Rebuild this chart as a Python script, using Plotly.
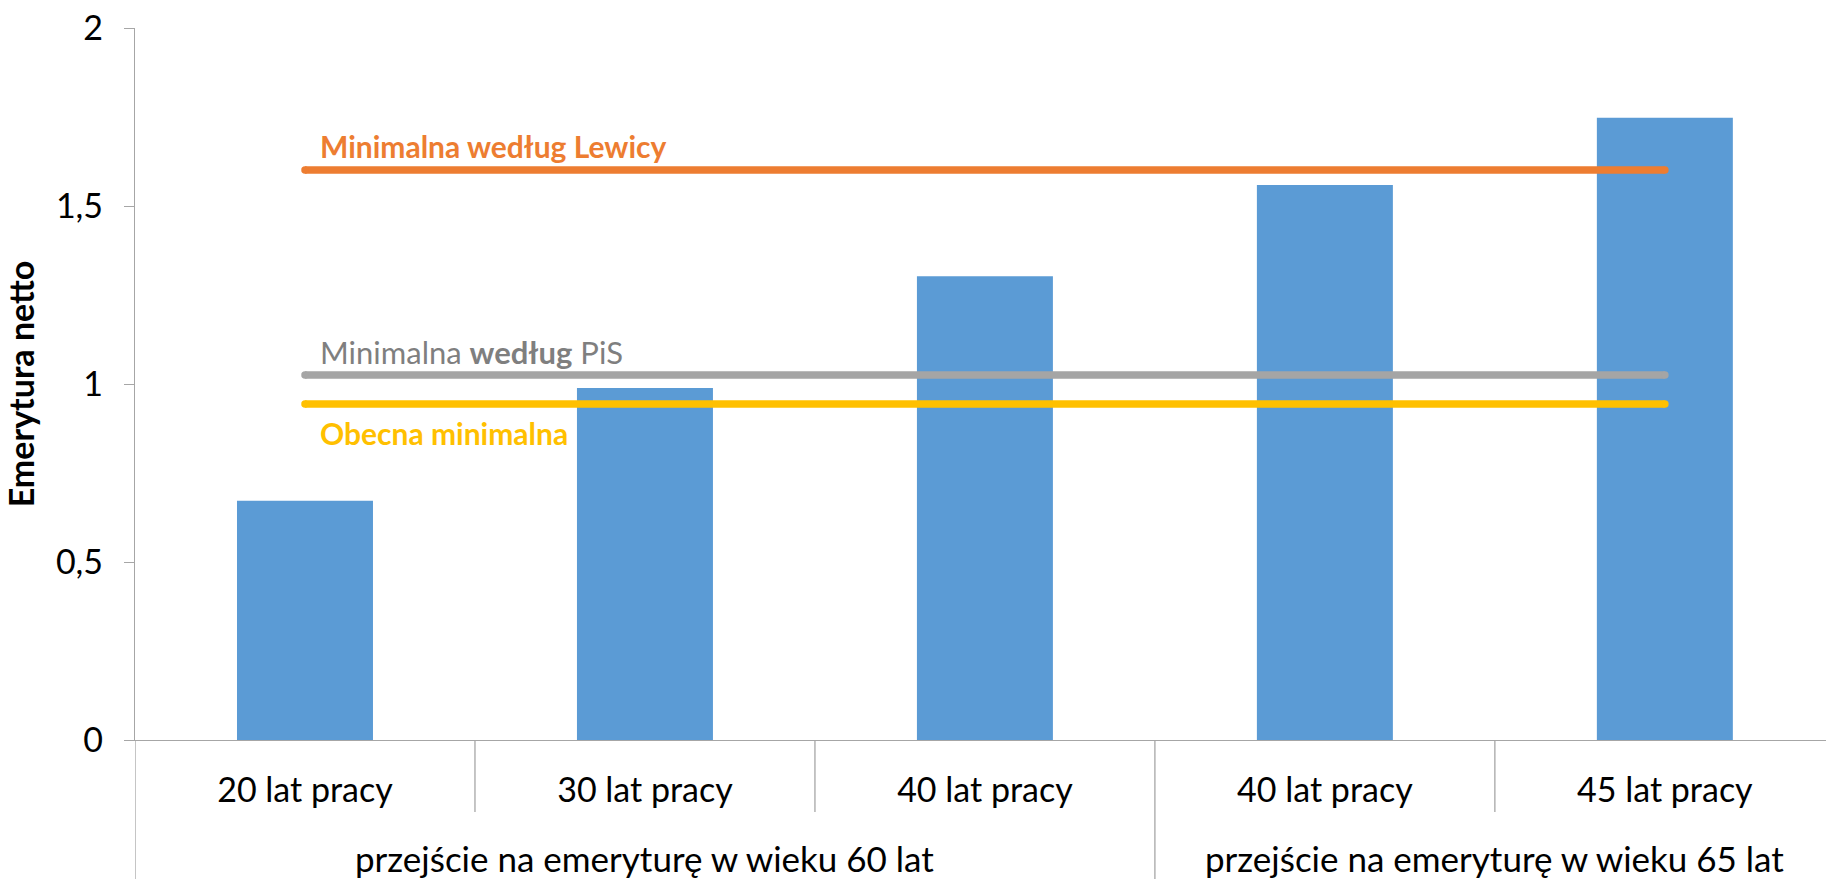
import plotly.graph_objects as go

categories = ["20 lat pracy", "30 lat pracy", "40 lat pracy", "40 lat pracy ", "45 lat pracy"]
tick_labels = ["20 lat pracy", "30 lat pracy", "40 lat pracy", "40 lat pracy", "45 lat pracy"]
groups = ["przejście na emeryturę w wieku 60 lat", "przejście na emeryturę w wieku 65 lat"]
group_members = [[0, 1, 2], [3, 4]]
values = [0.672, 0.989, 1.303, 1.559, 1.748]

line_names = ["Minimalna według Lewicy", "Minimalna według PiS", "Obecna minimalna"]
line_labels = ["<b>Minimalna według Lewicy</b>", "Minimalna <b>według</b> PiS", "<b>Obecna minimalna</b>"]
line_values = [1.601, 1.025, 0.944]
line_colors = ["#ED7D31", "#A5A5A5", "#FFC000"]
label_colors = ["#ED7D31", "#7F7F7F", "#FFC000"]
label_font_sizes = [30, 31, 30]
label_shift = [24, 23, -29]

y_ticks = [0, 0.5, 1, 1.5, 2]

FONT = "Lato"
AXIS_GREY = "#A6A6A6"

fig = go.Figure()
fig.add_trace(go.Bar(x=categories, y=values, marker=dict(color="#5B9BD5", line=dict(width=0)),
                     showlegend=False, hoverinfo="y"))

for name, v, c in zip(line_names, line_values, line_colors):
    fig.add_trace(go.Scatter(x=[categories[0], categories[-1]], y=[v, v], mode="lines+markers",
                             line=dict(color=c, width=7.5), marker=dict(color=c, size=7.5),
                             name=name, showlegend=False))

annotations = []
for lab, v, c, s, fs in zip(line_labels, line_values, label_colors, label_shift, label_font_sizes):
    annotations.append(dict(x=categories[0], y=v, xref="x", yref="y", text=lab, showarrow=False,
                            xanchor="left", yanchor="middle", xshift=13, yshift=s,
                            font=dict(family=FONT, size=fs, color=c)))

for g, members in zip(groups, group_members):
    xc = sum(members) / len(members)
    annotations.append(dict(x=xc, y=0, xref="x", yref="paper", text=g, showarrow=False,
                            xanchor="center", yanchor="middle", yshift=-118,
                            font=dict(family=FONT, size=35, color="#000000")))

shapes = []
n = len(categories)
group_ends = set(m[-1] for m in group_members)
for i in range(n - 1):
    long_div = i in group_ends
    shapes.append(dict(type="line", xref="x", yref="paper", x0=i + 0.5, x1=i + 0.5,
                       y0=0, y1=-0.2 if long_div else -0.101,
                       line=dict(color=AXIS_GREY, width=1.3)))
shapes.append(dict(type="line", xref="x", yref="paper", x0=-0.5, x1=-0.5, y0=0, y1=-0.2,
                   line=dict(color=AXIS_GREY, width=1.3)))

fig.update_layout(
    width=1826, height=879,
    margin=dict(l=135, r=0, t=28, b=139),
    paper_bgcolor="white", plot_bgcolor="white",
    bargap=0.6,
    separators=", ",
    font=dict(family=FONT, color="#000000"),
    annotations=annotations,
    shapes=shapes,
)
fig.update_xaxes(
    type="category", categoryorder="array", categoryarray=categories,
    tickvals=categories, ticktext=tick_labels,
    range=[-0.5, 4.474],
    showline=True, linecolor=AXIS_GREY, linewidth=1.3,
    ticks="", showgrid=False, zeroline=False,
    tickfont=dict(family=FONT, size=34, color="#000000"),
    ticklabelstandoff=20,
    automargin=False,
)
fig.update_yaxes(
    range=[0, 2], tickvals=y_ticks, tickformat=".1~f",
    showline=True, linecolor=AXIS_GREY, linewidth=1.3,
    ticks="outside", ticklen=10, tickcolor=AXIS_GREY, tickwidth=1.3,
    showgrid=False, zeroline=False,
    tickfont=dict(family=FONT, size=34, color="#000000"),
    ticklabelstandoff=14,
    title=dict(text="<b>Emerytura netto</b>", font=dict(family=FONT, size=34, color="#000000"),
               standoff=10),
    automargin=False,
)
fig.write_html("out.html", config={"displayModeBar": False},
               post_script="document.body.style.margin='0';document.body.style.overflow='hidden';")
